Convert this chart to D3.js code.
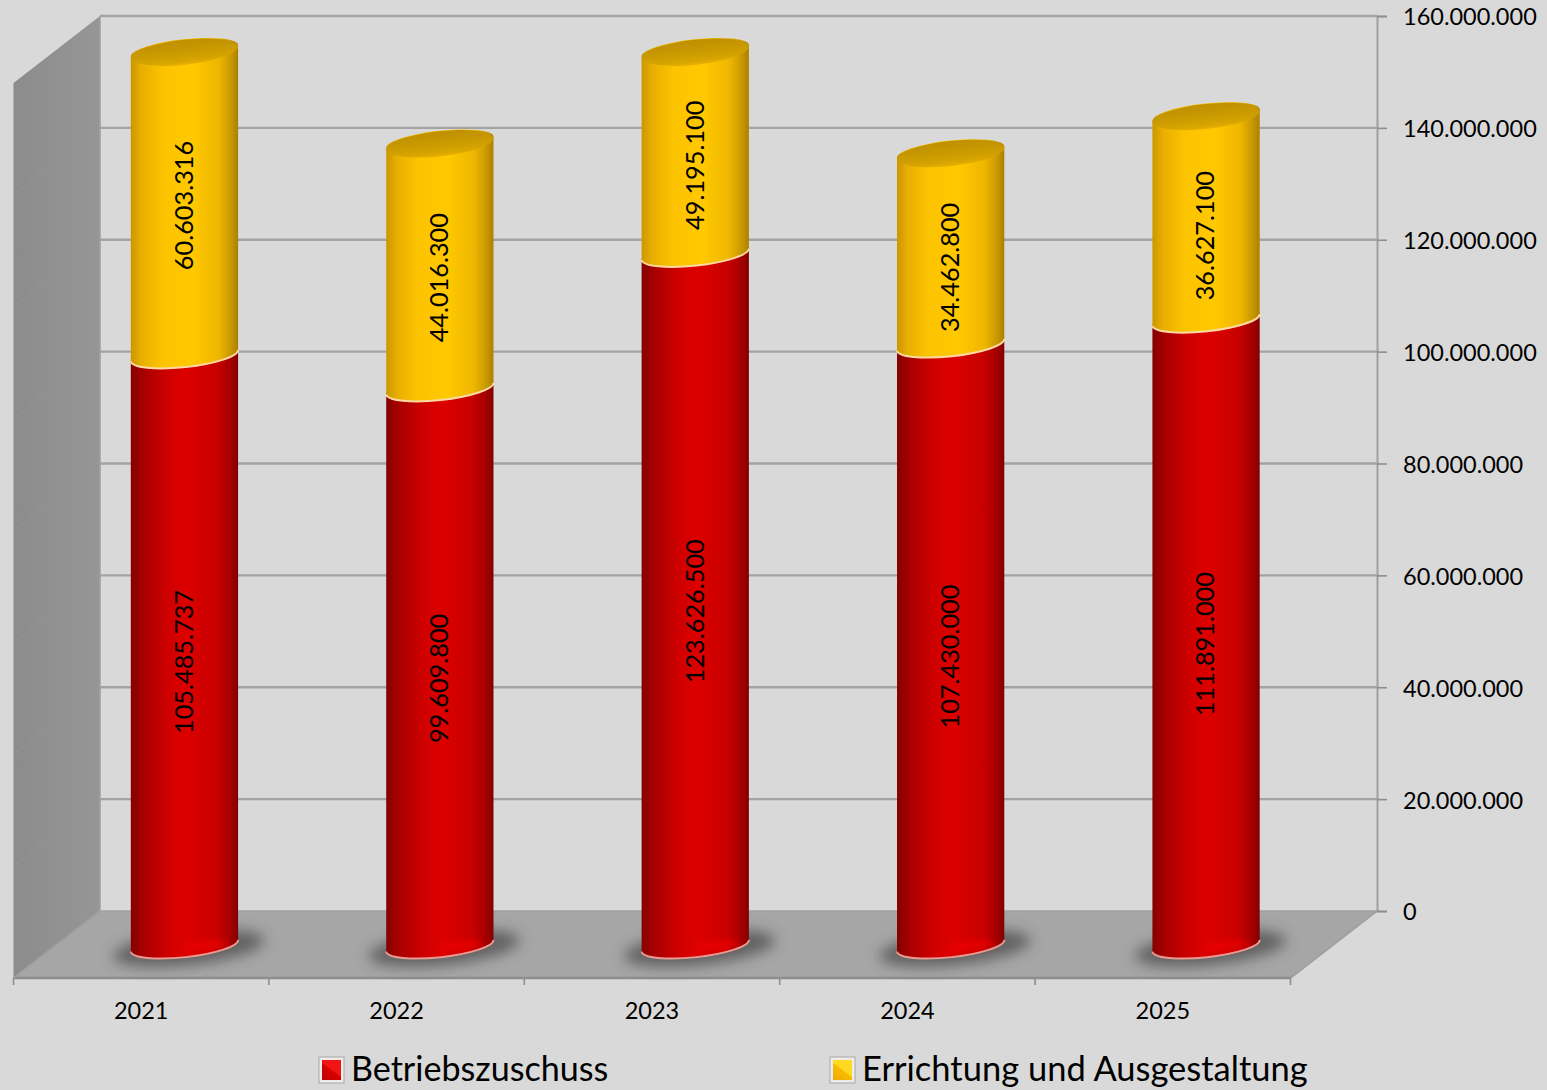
<!DOCTYPE html>
<html lang="de">
<head>
<meta charset="utf-8">
<title>Betriebszuschuss und Errichtung</title>
<script src="https://cdn.jsdelivr.net/npm/d3@7/dist/d3.min.js"></script>
<style>
  html, body { margin: 0; padding: 0; background: #d9d9d9; overflow: hidden; }
  svg { display: block; font-family: Lato, "Liberation Sans", sans-serif; }
</style>
</head>
<body>
<svg id="chart" width="1547" height="1090"></svg>
<script>
// Chart data
const years = ["2021", "2022", "2023", "2024", "2025"];
const betriebszuschuss = [105485737, 99609800, 123626500, 107430000, 111891000];
const errichtung = [60603316, 44016300, 49195100, 34462800, 36627100];
const axisTicks = [0, 20e6, 40e6, 60e6, 80e6, 100e6, 120e6, 140e6, 160e6];
const seriesNames = ["Betriebszuschuss", "Errichtung und Ausgestaltung"];

// Vertical correction of the rotated value labels
const upperLabelNudge = [2.3, 12.3, 12.8, 19, 18.3];
const lowerLabelNudge = 11.3;

// Box geometry: back wall, floor depth, and cylinder shape
const wall = { left: 100, right: 1377, top: 16, bottom: 911 };
const depth = { x: 86.5, y: 67 };
const W = 1547, H = 1090;
const axisMax = 160e6;
const tilt = 6.2;
const capRy = 11.5;
const grid = "#a3a3a3";

const svg = d3.select("#chart");
const defs = svg.append("defs");

const de = d3.formatLocale({ decimal: ",", thousands: ".", grouping: [3], currency: ["", "€"] });
const fmt = de.format(",d");

// Values beyond the axis maximum are held at the top of the box
const yBack = d3.scaleLinear().domain([0, axisMax]).range([wall.bottom, wall.top]).clamp(true);
const x = d3.scaleBand().domain(years).range([wall.left - depth.x, wall.right - depth.x]);
const barWidth = x.bandwidth() * 0.42;
const barRx = barWidth / 2 / Math.cos(tilt * Math.PI / 180);
const midY = v => yBack(v) + depth.y / 2 + 1.2;
const barX = d => x(d) + x.bandwidth() / 2 + depth.x / 2;

function hGradient(id, stops) {
  const g = defs.append("linearGradient").attr("id", id);
  stops.forEach(([o, c]) => g.append("stop").attr("offset", o).attr("stop-color", c));
}
hGradient("redSide", [[0, "#850000"], [0.12, "#a80000"], [0.35, "#d00000"], [0.52, "#dc0000"], [0.8, "#c80000"], [0.94, "#a00000"], [1, "#800000"]]);
hGradient("yellowSide", [[0, "#cc9700"], [0.1, "#e8ae00"], [0.3, "#fcc400"], [0.58, "#ffc800"], [0.82, "#eeb600"], [0.95, "#c29300"], [1, "#a88000"]]);
hGradient("wallFill", [[0, "#8c8c8c"], [1, "#969696"]]);

// The cap darkens towards its upper edge
const capGrad = defs.append("linearGradient").attr("id", "capFill")
  .attr("x1", 0.5).attr("y1", 0).attr("x2", 0.5).attr("y2", 1);
[[0, "#bf9000"], [0.55, "#cb9b00"], [0.85, "#d8a500"], [1, "#e8b000"]]
  .forEach(([o, c]) => capGrad.append("stop").attr("offset", o).attr("stop-color", c));

// Legend keys shade from their upper right corner to the lower left
const swatchGrad = (id, a, b, c) => {
  const g = defs.append("linearGradient").attr("id", id)
    .attr("x1", 0.15).attr("y1", 1).attr("x2", 0.85).attr("y2", 0);
  g.append("stop").attr("offset", 0).attr("stop-color", a);
  g.append("stop").attr("offset", 0.48).attr("stop-color", b);
  g.append("stop").attr("offset", 0.52).attr("stop-color", c);
  g.append("stop").attr("offset", 1).attr("stop-color", c);
};
swatchGrad("swatchRed", "#c00000", "#d80000", "#f01414");
swatchGrad("swatchYellow", "#f0aa00", "#f8bc00", "#ffd820");

const blur = (id, sd) => defs.append("filter").attr("id", id)
  .attr("x", "-30%").attr("y", "-60%").attr("width", "160%").attr("height", "220%")
  .append("feGaussianBlur").attr("stdDeviation", sd);
blur("soft", 7);
blur("glow", 3);

// Page background
svg.append("rect").attr("width", W).attr("height", H).attr("fill", "#d9d9d9");

// Left wall and floor
svg.append("path")
  .attr("d", d3.line()([[wall.left, wall.top], [wall.left - depth.x, wall.top + depth.y], [wall.left - depth.x, wall.bottom + depth.y], [wall.left, wall.bottom]]) + "Z")
  .attr("fill", "url(#wallFill)");
svg.append("path")
  .attr("d", d3.line()([[wall.left, wall.bottom], [wall.right, wall.bottom], [wall.right - depth.x, wall.bottom + depth.y], [wall.left - depth.x, wall.bottom + depth.y]]) + "Z")
  .attr("fill", "#a6a6a6");

// Gridlines along the back wall, faint continuation on the left wall
const gridG = svg.append("g");
gridG.selectAll("line.back").data(axisTicks.slice(1)).join("line").attr("class", "back")
  .attr("x1", wall.left).attr("x2", wall.right)
  .attr("y1", yBack).attr("y2", yBack)
  .attr("stroke", grid).attr("stroke-width", 2.4);
gridG.selectAll("line.side").data(axisTicks.slice(1, -1)).join("line").attr("class", "side")
  .attr("x1", wall.left).attr("x2", wall.left - depth.x)
  .attr("y1", yBack).attr("y2", d => yBack(d) + depth.y)
  .attr("stroke", "#959595").attr("stroke-width", 1);

// Box edges
const edgeLines = [
  [[wall.left, wall.top], [wall.left, wall.bottom]],
  [[wall.left, wall.bottom], [wall.right, wall.bottom]],
  [[wall.right, wall.bottom], [wall.right - depth.x, wall.bottom + depth.y]],
  [[wall.left - depth.x, wall.bottom + depth.y], [wall.right - depth.x, wall.bottom + depth.y]],
  [[wall.left, wall.bottom], [wall.left - depth.x, wall.bottom + depth.y]]
];
svg.append("g").selectAll("path").data(edgeLines).join("path")
  .attr("d", d => d3.line()(d))
  .attr("stroke", (d, i) => i === 3 ? "#8e8e8e" : "#a0a0a0")
  .attr("stroke-width", (d, i) => i === 3 ? 2.4 : 1.6)
  .attr("fill", "none");

// Value axis on the right
const yAxis = svg.append("g")
  .attr("transform", `translate(${wall.right},0)`)
  .call(d3.axisRight(yBack).tickValues(axisTicks).tickFormat(fmt).tickSize(10).tickPadding(16));
yAxis.select(".domain").attr("stroke", "#a0a0a0").attr("stroke-width", 2);
yAxis.selectAll(".tick line").attr("stroke", "#8e8e8e").attr("stroke-width", 1.6);
yAxis.selectAll("text").attr("fill", "#000").attr("font-size", 23.5).attr("font-family", "Lato")
  .attr("dy", "0.38em");

// Category axis along the front edge
const xAxis = svg.append("g")
  .attr("transform", `translate(0,${wall.bottom + depth.y})`)
  .call(d3.axisBottom(x).tickSize(0).tickPadding(24));
xAxis.select(".domain").remove();
xAxis.selectAll("text").attr("fill", "#000").attr("font-size", 23.5).attr("font-family", "Lato");
xAxis.selectAll("line.edge").data(years.concat("end")).join("line").attr("class", "edge")
  .attr("x1", d => d === "end" ? x.range()[1] : x(d))
  .attr("x2", d => d === "end" ? x.range()[1] : x(d))
  .attr("y1", 0).attr("y2", 7)
  .attr("stroke", "#8e8e8e").attr("stroke-width", 1.6);

// Cylinder helpers: the tips lie on the tilted major axis of each elliptical section
const tipDx = barRx * Math.cos(tilt * Math.PI / 180);
const tipDy = barRx * Math.sin(tilt * Math.PI / 180);
const L = (cx, y) => `${cx - tipDx},${y + tipDy}`;
const R = (cx, y) => `${cx + tipDx},${y - tipDy}`;
const arc = `A${barRx},${capRy} ${-tilt} 0 0`;
const lowerArc = (cx, y) => `M${L(cx, y)} ${arc} ${R(cx, y)}`;
const segment = (cx, y0, y1) =>
  `M${L(cx, y0)} ${arc} ${R(cx, y0)} L${R(cx, y1)} ${arc} ${L(cx, y1)} Z`;

const bars = svg.append("g").selectAll("g").data(years).join("g");

bars.each(function (year, i) {
  const g = d3.select(this);
  const cx = barX(year);
  const base = midY(0);
  const split = midY(betriebszuschuss[i]);
  const top = midY(betriebszuschuss[i] + errichtung[i]);

  // Contact shadow on the floor
  g.append("ellipse")
    .attr("cx", cx + 4).attr("cy", base + 3)
    .attr("rx", barRx + 22).attr("ry", capRy + 5)
    .attr("transform", `rotate(${-tilt} ${cx} ${base})`)
    .attr("fill", "#3f3f3f").attr("opacity", 0.68)
    .attr("filter", "url(#soft)");

  // Lower section
  g.append("path").attr("d", segment(cx, base, split)).attr("fill", "url(#redSide)");
  g.append("ellipse")
    .attr("cx", cx + 20).attr("cy", base + 2)
    .attr("rx", 24).attr("ry", 5)
    .attr("transform", `rotate(${-tilt} ${cx} ${base})`)
    .attr("fill", "#ee0000").attr("opacity", 0.7)
    .attr("filter", "url(#glow)");
  g.append("path").attr("d", lowerArc(cx, base))
    .attr("fill", "none").attr("stroke", "#e89a92").attr("stroke-width", 2);

  // Upper section with its pale seam and darker cap
  g.append("path").attr("d", segment(cx, split, top)).attr("fill", "url(#yellowSide)");
  g.append("path").attr("d", lowerArc(cx, split))
    .attr("fill", "none").attr("stroke", "#ffd9a0").attr("stroke-width", 2);
  g.append("ellipse")
    .attr("cx", cx).attr("cy", top + 1.5)
    .attr("rx", barRx).attr("ry", capRy + 1)
    .attr("transform", `rotate(${-tilt} ${cx} ${top + 1.5})`)
    .attr("fill", "url(#capFill)");

  // Rotated value labels
  const label = (value, y) => g.append("text")
    .attr("transform", `translate(${cx - 0.5},${y}) rotate(-90)`)
    .attr("text-anchor", "middle").attr("dy", "0.35em")
    .attr("font-size", 25.3).attr("font-family", "Lato").attr("fill", "#000")
    .text(fmt(value));
  label(betriebszuschuss[i], (base + split) / 2 + lowerLabelNudge);
  label(errichtung[i], (split + top) / 2 + upperLabelNudge[i]);
});

// Legend
const legendX = [319, 830];
const swatches = ["url(#swatchRed)", "url(#swatchYellow)"];
const legend = svg.append("g").selectAll("g").data(seriesNames).join("g")
  .attr("transform", (d, i) => `translate(${legendX[i]},1057)`);
legend.append("rect").attr("width", 25).attr("height", 26)
  .attr("fill", "#ececec").attr("stroke", "#a8a8a8").attr("stroke-width", 1);
legend.append("rect").attr("x", 3).attr("y", 3).attr("width", 19).attr("height", 20)
  .attr("fill", (d, i) => swatches[i]);
legend.append("text")
  .attr("x", 32).attr("y", 24)
  .attr("font-size", (d, i) => i ? 34.5 : 34.1).attr("font-family", "Lato").attr("fill", "#000")
  .text(d => d);
</script>
</body>
</html>
